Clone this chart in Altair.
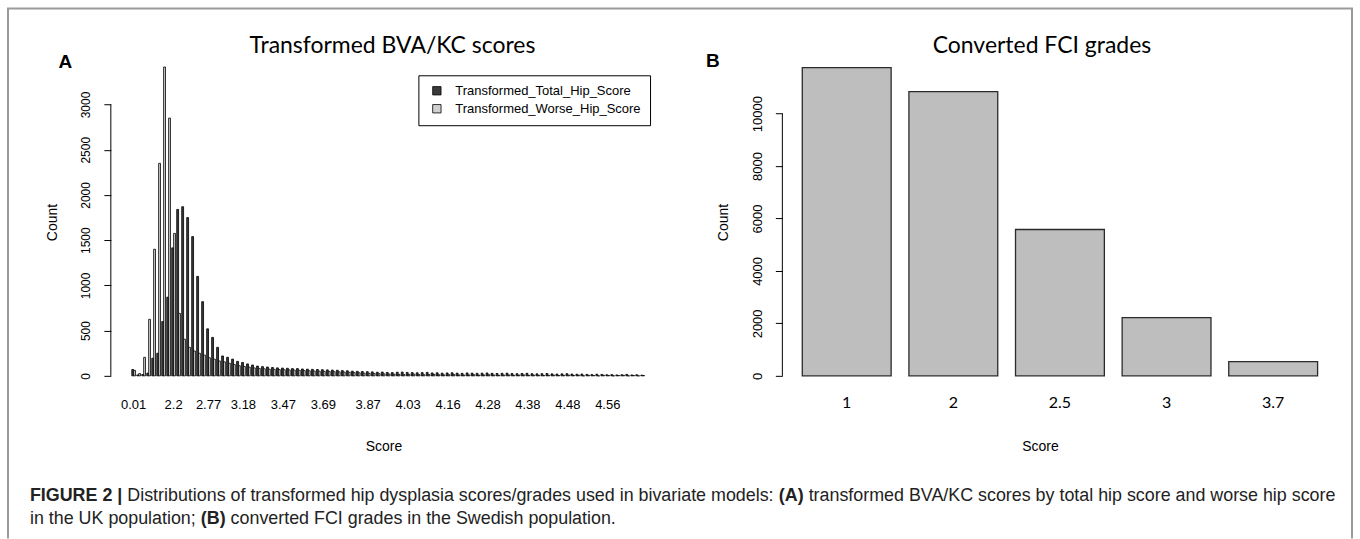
import altair as alt
import pandas as pd

# ---------------- data ----------------
series_names = ["Transformed_Total_Hip_Score", "Transformed_Worse_Hip_Score"]

# 103 score groups (left panel); only every ~8th label is drawn
score_tick_index = [0, 8, 15, 22, 30, 38, 47, 55, 63, 71, 79, 87, 95]
score_tick_labels = ["0.01", "2.2", "2.77", "3.18", "3.47", "3.69", "3.87",
                     "4.03", "4.16", "4.28", "4.38", "4.48", "4.56"]

total_hip_counts = [
    70, 10, 15, 30, 195, 250, 600, 870, 1415, 1840,
    1870, 1750, 1540, 1100, 820, 520, 425, 315, 220, 205,
    185, 160, 148, 132, 120, 108, 102, 98, 92, 88,
    86, 84, 80, 80, 76, 74, 72, 70, 68, 66,
    64, 62, 58, 56, 52, 50, 48, 46, 44, 40,
    42, 38, 36, 40, 42, 38, 36, 34, 36, 38,
    32, 34, 30, 32, 34, 30, 28, 32, 30, 28,
    30, 32, 28, 26, 28, 30, 26, 24, 26, 28,
    24, 22, 24, 26, 22, 20, 22, 24, 20, 18,
    20, 16, 14, 18, 16, 12, 14, 10, 12, 16,
    10, 12, 8]
worse_hip_counts = [
    60, 25, 205, 625, 1400, 2350, 3415, 2850, 1575, 690,
    405, 315, 275, 250, 230, 200, 185, 165, 155, 140,
    125, 112, 104, 96, 88, 82, 78, 74, 72, 70,
    68, 66, 64, 62, 58, 56, 54, 52, 50, 48,
    46, 44, 42, 40, 36, 34, 30, 28, 26, 24,
    22, 20, 18, 16, 14, 16, 18, 14, 12, 14,
    16, 12, 10, 12, 14, 10, 8, 10, 12, 8,
    10, 12, 8, 6, 8, 10, 6, 8, 10, 6,
    8, 6, 4, 6, 8, 4, 6, 8, 4, 6,
    0, 6, 4, 0, 6, 4, 0, 4, 6, 0,
    4, 0, 4]

count_ticks_a = [0, 500, 1000, 1500, 2000, 2500, 3000]
count_axis_a = [0, 3000]

fci_grades = ["1", "2", "2.5", "3", "3.7"]
fci_counts = [11750, 10840, 5580, 2220, 545]
count_ticks_b = [0, 2000, 4000, 6000, 8000, 10000]
count_axis_b = [0, 10000]

title_a = "Transformed BVA/KC scores"
title_b = "Converted FCI grades"

caption_line1 = [("FIGURE 2 |", True),
                 ("Distributions of transformed hip dysplasia scores/grades used in bivariate models:", False),
                 ("(A)", True),
                 ("transformed BVA/KC scores by total hip score and worse hip score", False)]
caption_line2 = [("in the UK population;", False),
                 ("(B)", True),
                 ("converted FCI grades in the Swedish population.", False)]

# ---------------- tables ----------------
rows = []
for i, (t, w) in enumerate(zip(total_hip_counts, worse_hip_counts)):
    rows.append({"idx": i, "series": series_names[0], "count": t})
    rows.append({"idx": i, "series": series_names[1], "count": w})
df_a = pd.DataFrame(rows)
df_b = pd.DataFrame({"grade": fci_grades, "count": fci_counts})
axis_a_df = pd.DataFrame({"lo": [count_axis_a[0]], "hi": [count_axis_a[1]]})
axis_b_df = pd.DataFrame({"lo": [count_axis_b[0]], "hi": [count_axis_b[1]]})
dummy = pd.DataFrame({"k": [0]})

# ---------------- text metrics (Arial/Helvetica widths, 1/1000 em) ----------------
REG = {" ": 278, "(": 333, ")": 333, ",": 278, "-": 333, ".": 278, "/": 278, ":": 278, ";": 278, "|": 260,
       "A": 667, "B": 667, "C": 722, "D": 722, "E": 667, "F": 611, "G": 778, "H": 722, "I": 278, "K": 667,
       "S": 667, "U": 722, "V": 667,
       "a": 556, "b": 556, "c": 500, "d": 556, "e": 556, "f": 278, "g": 556, "h": 556, "i": 222, "j": 222,
       "k": 500, "l": 222, "m": 833, "n": 556, "o": 556, "p": 556, "q": 556, "r": 333, "s": 500, "t": 278,
       "u": 556, "v": 500, "w": 722, "x": 500, "y": 500, "z": 500}
BOLD = {" ": 278, "(": 333, ")": 333, "|": 280, "2": 556, "A": 722, "B": 722, "E": 667, "F": 611,
        "G": 778, "I": 278, "R": 722, "U": 722}


def text_em(s, bold):
    table = BOLD if bold else REG
    return sum(table.get(c, 556) for c in s) / 1000.0


def line_em(segments):
    return sum(text_em(s, b) for s, b in segments) + 0.278 * (len(segments) - 1)


OX, OY = 129, 59      # page position of panel A's plot origin
CAP_X0 = 29 - OX
CAP_WIDTH = 1309
cap_size = CAP_WIDTH / line_em(caption_line1)


def note(txt, x, y, size, font="Liberation Sans", weight="normal", align="center",
         baseline="middle", color="black"):
    return alt.Chart(dummy).mark_text(
        text=txt, font=font, fontSize=size, fontWeight=weight, align=align,
        baseline=baseline, color=color
    ).encode(x=alt.value(x), y=alt.value(y))


def caption_layers(segments, y):
    out = []
    x = CAP_X0
    for s, b in segments:
        out.append(note(s, x, y, cap_size, weight="bold" if b else "normal", align="left",
                        color="#222222"))
        x += (text_em(s, b) + 0.278) * cap_size
    return out


def frame_line(x1, y1, x2, y2):
    return alt.Chart(dummy).mark_rule(color="#9a9a9a", strokeWidth=2).encode(
        x=alt.value(x1 - OX), x2=alt.value(x2 - OX), y=alt.value(y1 - OY), y2=alt.value(y2 - OY))


H = 317
AX_OFF = OX - 110
WA = 517.5
label_expr = ("[" + ",".join("'%s'" % l for l in score_tick_labels) + "][indexof(["
              + ",".join(str(i) for i in score_tick_index) + "], datum.value)]")

# ---------------- panel A ----------------
bars_a = alt.Chart(df_a).mark_bar(stroke="black", strokeWidth=0.8).encode(
    x=alt.X("idx:O",
            scale=alt.Scale(paddingInner=0.25, paddingOuter=0.4),
            axis=alt.Axis(values=score_tick_index, labelExpr=label_expr, ticks=False, domain=False,
                          grid=False, labelAngle=0, labelPadding=29, labelBaseline="middle",
                          labelFont="Liberation Sans", labelFontSize=13, labelColor="black",
                          labelOverlap=False, labelBound=False, labelFlush=False,
                          title="Score", titleX=383 - OX, titleY=71, titleAlign="center",
                          titleBaseline="middle", titleFont="Liberation Sans", titleFontSize=14,
                          titleFontWeight="normal", titleColor="black")),
    xOffset=alt.XOffset("series:N", scale=alt.Scale(domain=series_names)),
    y=alt.Y("count:Q",
            scale=alt.Scale(domain=[0, 3500], nice=False),
            axis=alt.Axis(values=count_ticks_a, format="d", domain=False, grid=False,
                          tickColor="black", offset=AX_OFF,
                          tickSize=7, labelAngle=270, labelAlign="center", labelBaseline="middle",
                          labelPadding=18, labelFont="Liberation Sans", labelFontSize=12,
                          labelColor="black", title="Count", titleX=-58, titleY=163,
                          titleAngle=270, titleAlign="center", titleBaseline="middle",
                          titleFont="Liberation Sans", titleFontSize=14, titleFontWeight="normal",
                          titleColor="black")),
    color=alt.Color("series:N",
                    scale=alt.Scale(domain=series_names, range=["#3a3a3a", "#d0d0d0"]),
                    legend=alt.Legend(title=None, orient="none", legendX=418 - OX, legendY=16,
                                      symbolType="square", symbolSize=70, symbolStrokeColor="black",
                                      symbolStrokeWidth=0.8, labelFont="Liberation Sans",
                                      labelFontSize=13, labelColor="black", labelOffset=12,
                                      labelLimit=0, strokeColor="black", fillColor="white",
                                      padding=9, rowPadding=4, symbolOffset=3)),
)
rule_a = alt.Chart(axis_a_df).mark_rule(color="black", strokeWidth=1).encode(
    x=alt.value(-AX_OFF), y="lo:Q", y2="hi:Q")

panel_a = alt.layer(
    frame_line(6, 8, 1354, 8),
    frame_line(7, 8, 7, 539),
    frame_line(1353, 8, 1353, 539),
    bars_a, rule_a,
    note(title_a, 392 - OX, 46 - OY, 23, font="Lato"),
    note("A", 64.5 - OX, 61.5 - OY, 19, weight="bold"),
    *caption_layers(caption_line1, 496 - OY),
    *caption_layers(caption_line2, 519 - OY),
).properties(width=WA, height=H)

# ---------------- panel B ----------------
BX = 782
bars_b = alt.Chart(df_b).mark_bar(fill="#bebebe", stroke="#2b2b2b", strokeWidth=1.3).encode(
    x=alt.X("grade:O", sort=fci_grades,
            scale=alt.Scale(paddingInner=0.1667, paddingOuter=0.187),
            axis=alt.Axis(ticks=False, domain=False, grid=False, labelAngle=0, labelPadding=27,
                          labelBaseline="middle", labelFont="Lato", labelFontSize=16,
                          labelColor="black", title="Score", titleX=1040 - BX, titleY=71,
                          titleAlign="center", titleBaseline="middle", titleFont="Liberation Sans",
                          titleFontSize=14, titleFontWeight="normal", titleColor="black")),
    y=alt.Y("count:Q",
            scale=alt.Scale(domain=[0, 12070], nice=False),
            axis=alt.Axis(values=count_ticks_b, format="d", domain=False, grid=False,
                          tickColor="black",
                          tickSize=7, labelAngle=270, labelAlign="center", labelBaseline="middle",
                          labelPadding=18, labelFont="Liberation Sans", labelFontSize=13,
                          labelColor="black", title="Count", titleX=-59, titleY=163,
                          titleAngle=270, titleAlign="center", titleBaseline="middle",
                          titleFont="Liberation Sans", titleFontSize=14, titleFontWeight="normal",
                          titleColor="black")),
)
rule_b = alt.Chart(axis_b_df).mark_rule(color="black", strokeWidth=1).encode(
    x=alt.value(0), y="lo:Q", y2="hi:Q")

panel_b = alt.layer(
    bars_b, rule_b,
    note(title_b, 1042 - BX, 46 - OY, 23, font="Lato"),
    note("B", 712.5 - BX, 60.5 - OY, 19, weight="bold"),
).properties(width=556, height=H)

chart = alt.hconcat(panel_a, panel_b, spacing=BX - (OX + WA), bounds="flush").properties(
    padding={"left": 6, "top": 7, "right": 6, "bottom": 0},
    background="white",
).configure_view(strokeWidth=0)

chart.save("out.html", embed_options={"renderer": "svg", "actions": False})
